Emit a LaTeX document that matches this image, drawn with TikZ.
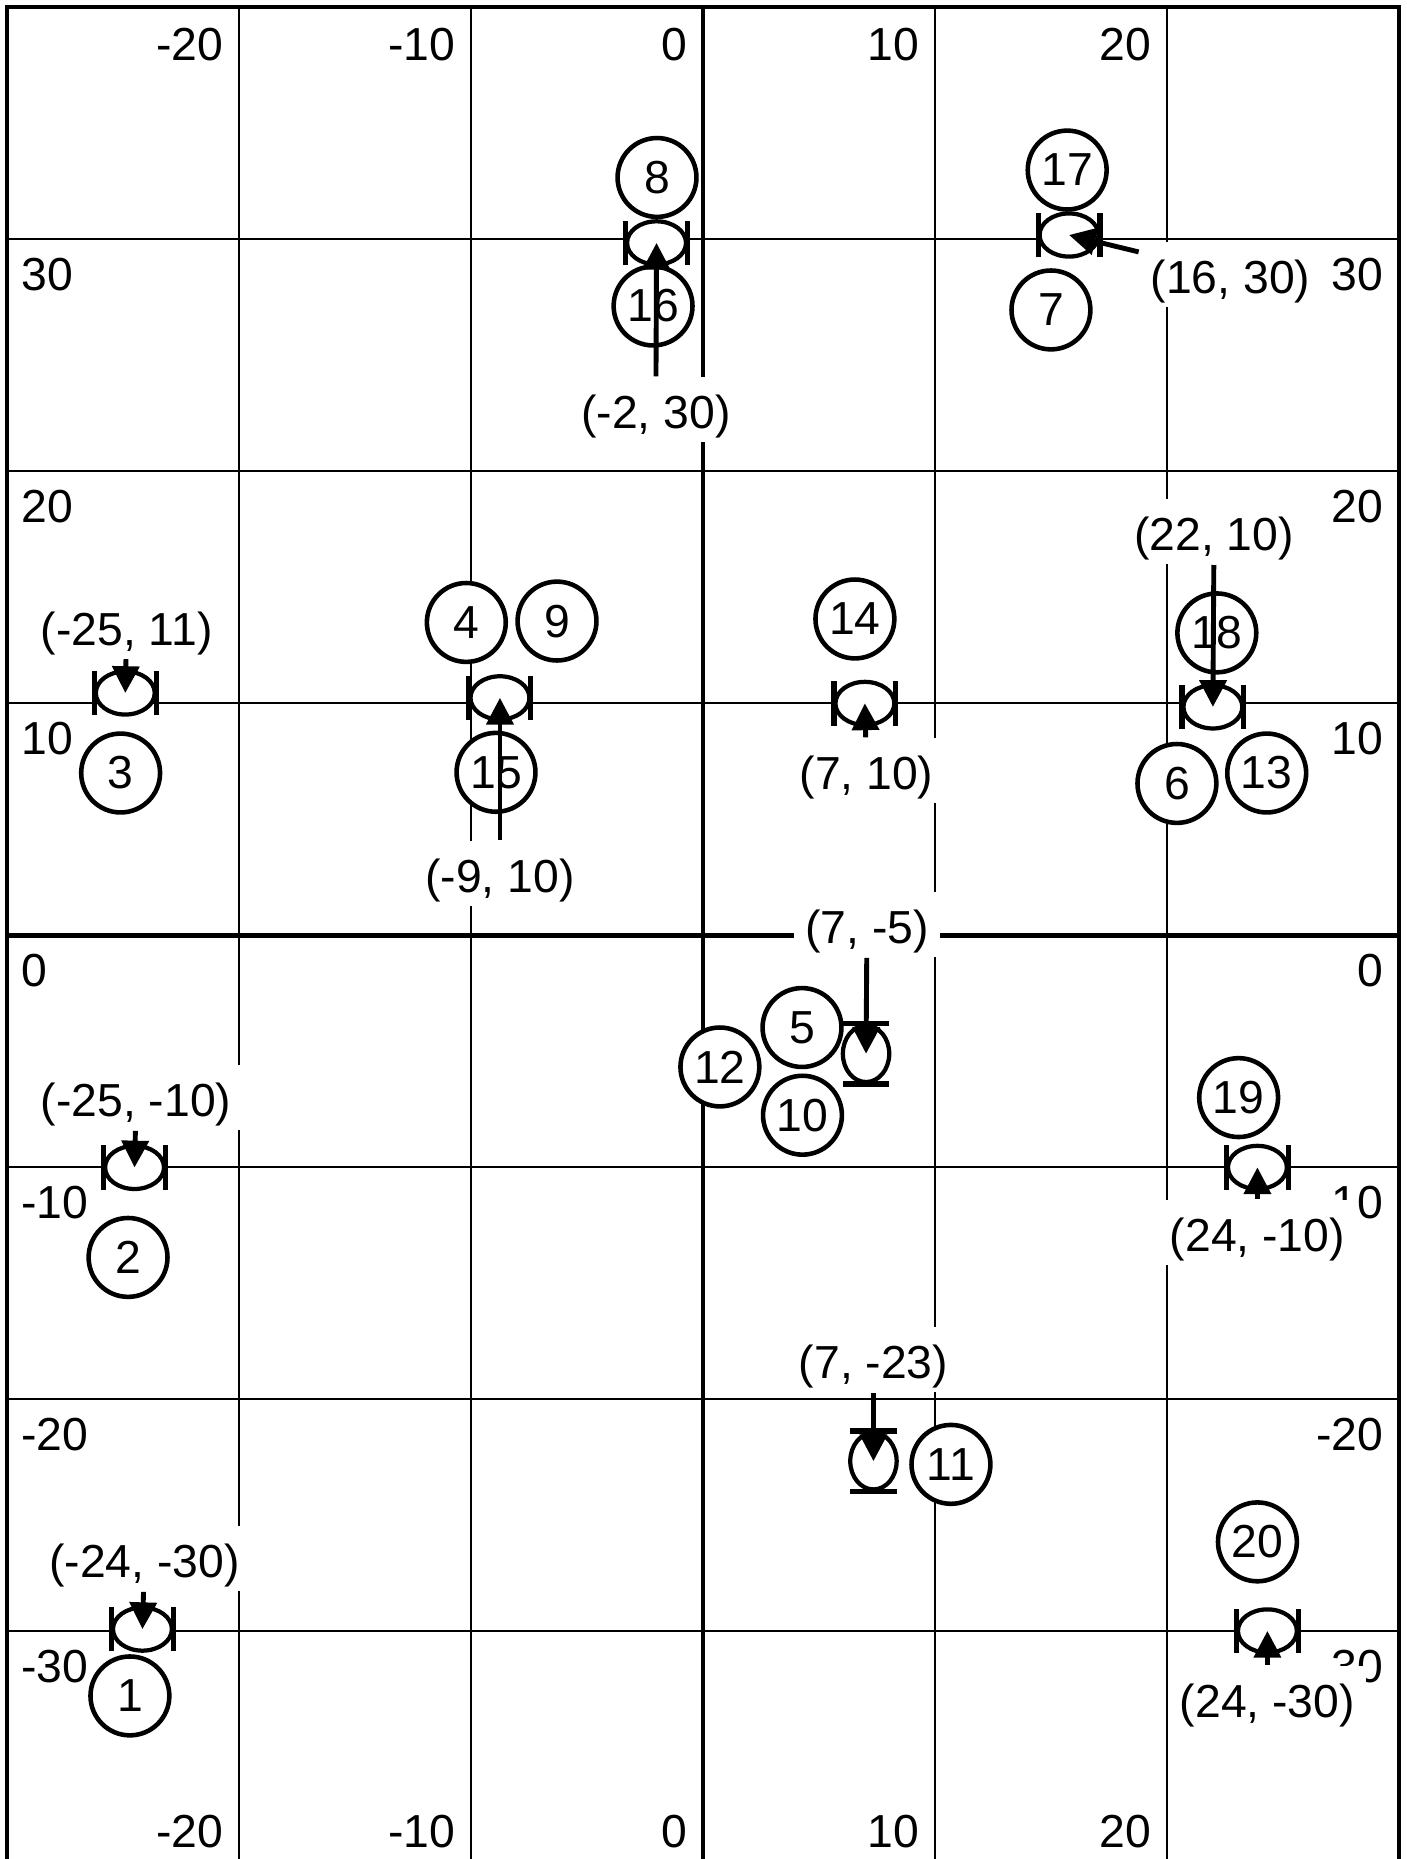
\documentclass[tikz,border=0pt]{standalone}
\usepackage{fontspec}
\setmainfont{Liberation Sans}
\usetikzlibrary{arrows.meta}
\begin{document}
\begin{tikzpicture}[x=0.25cm,y=0.25cm,
 font=\fontsize{14.2pt}{17pt}\selectfont,
 gridline/.style={line width=0.6pt},
 axisline/.style={line width=1.3pt},
 frameline/.style={line width=1.2pt},
 ticklbl/.style={inner sep=0pt},
 circ/.style={circle, draw, line width=1.4pt, fill=white, minimum size=0.85cm, inner sep=0pt},
 coordlbl/.style={fill=white, inner xsep=3.5pt, inner ysep=1.1pt, text height=14.8pt, text depth=3pt},
 arr/.style={line width=1.5pt, -{Triangle[length=8.2pt,width=8.2pt]}},
 pumpline/.style={line width=1.3pt, fill=white},
 barline/.style={line width=1.6pt},
 pumph/.pic={
   \draw[pumpline] (0,0) ellipse [x radius=1.27, y radius=0.93];
   \draw[barline] (-1.33,-0.96) -- (-1.33,0.96) (1.33,-0.96) -- (1.33,0.96);
 },
 pumpv/.pic={
   \draw[pumpline] (0,0) ellipse [x radius=1.0, y radius=1.22];
   \draw[barline] (-1.0,-1.3) -- (1.0,-1.3) (-1.0,1.3) -- (1.0,1.3);
 }
]
\useasboundingbox (-30.30,-39.81) rectangle (30.34,40.32);
% grid
\foreach \g in {-20,-10,10,20} \draw[gridline] (\g,-40) -- (\g,40);
\foreach \g in {-30,-20,-10,10,20,30} \draw[gridline] (-30,\g) -- (30,\g);
\draw[axisline] (0,-40) -- (0,40);
\draw[axisline] (-30,0) -- (30,0);
\draw[frameline] (-30,-40) rectangle (30,40);
% tick labels
\foreach \g/\n in {-20/a,-10/b,0/c,10/d,20/e} {
  \node[ticklbl,anchor=east] (top\n) at (\g-0.65,38.38) {\g};
  \node[ticklbl,anchor=east] (bot\n) at (\g-0.65,-38.64) {\g};
}
\foreach \g/\n in {30/a,20/b,10/c,0/d,-10/e,-20/f,-30/g} {
  \node[ticklbl,anchor=west] (lft\n) at (-29.4,\g-1.52) {\g};
  \node[ticklbl,anchor=east] (rgt\n) at (29.35,\g-1.52) {\g};
}
% pump positions
\coordinate (P1) at (-2.0,29.85);
\coordinate (P2) at (15.78,30.19);
\coordinate (P3) at (-24.9,10.45);
\coordinate (P4) at (-8.75,10.24);
\coordinate (P5) at (6.98,10.0);
\coordinate (P6) at (21.98,9.85);
\coordinate (P7) at (7.03,-5.1);
\coordinate (P8) at (-24.5,-10.0);
\coordinate (P9) at (23.9,-10.0);
\coordinate (P10) at (7.35,-22.66);
\coordinate (P11) at (-24.16,-29.9);
\coordinate (P12) at (24.33,-29.98);
\foreach \p in {P1,P2,P3,P4,P5,P6,P8,P9,P11,P12} \pic at (\p) {pumph};
\foreach \p in {P7,P10} \pic at (\p) {pumpv};
% circles
\node[circ] (c1) at (-24.7,-32.78) {1};
\node[circ] (c2) at (-24.78,-13.88) {2};
\node[circ] (c3) at (-25.1,7.0) {3};
\node[circ] (c4) at (-10.2,13.49) {4};
\node[circ] (c5) at (4.27,-3.97) {5};
\node[circ] (c6) at (20.43,6.55) {6};
\node[circ] (c7) at (15.0,26.96) {7};
\node[circ] (c8) at (-1.98,32.67) {8};
\node[circ] (c9) at (-6.29,13.55) {9};
\node[circ] (c10) at (4.29,-7.75) {10};
\node[circ] (c11) at (10.69,-22.8) {11};
\node[circ] (c12) at (0.73,-5.67) {12};
\node[circ] (c13) at (24.3,7.0) {13};
\node[circ] (c14) at (6.55,13.64) {14};
\node[circ] (c15) at (-8.92,7.03) {15};
\node[circ] (c16) at (-2.15,27.13) {16};
\node[circ] (c17) at (15.7,32.99) {17};
\node[circ] (c18) at (22.15,13.04) {18};
\node[circ] (c19) at (23.09,-6.99) {19};
\node[circ] (c20) at (23.9,-26.14) {20};
% coordinate labels
\node[coordlbl] (L1) at (-2.03,22.66) {(-2, 30)};
\node[coordlbl] (L2) at (22.74,28.5) {(16, 30)};
\node[coordlbl] (L3) at (-24.84,13.34) {(-25, 11)};
\node[coordlbl] (L4) at (-8.75,2.67) {(-9, 10)};
\node[coordlbl] (L5) at (7.05,7.10) {(7, 10)};
\node[coordlbl] (L6) at (22.03,17.40) {(22, 10)};
\node[coordlbl] (L7) at (7.07,0.47) {(7, -5)};
\node[coordlbl] (L8) at (-24.43,-6.99) {(-25, -10)};
\node[coordlbl] (L9) at (23.9,-12.79) {(24, -10)};
\node[coordlbl] (L10) at (7.35,-18.27) {(7, -23)};
\node[coordlbl] (L11) at (-24.07,-26.86) {(-24, -30)};
\node[coordlbl] (L12) at (24.33,-32.89) {(24, -30)};
% arrows
\foreach \i in {1,...,12} \draw[arr] (L\i) -- (P\i);
\end{tikzpicture}
\end{document}
